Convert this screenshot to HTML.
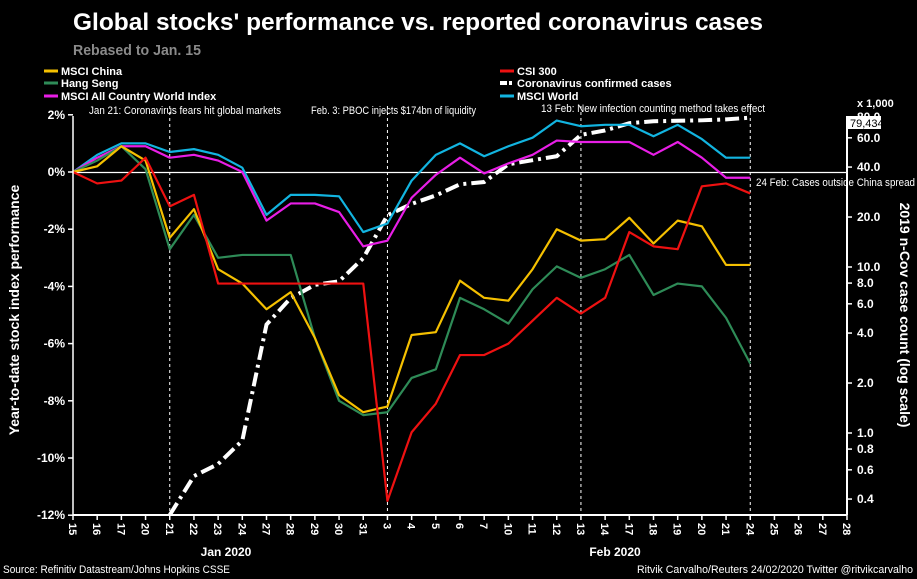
<!DOCTYPE html>
<html><head><meta charset="utf-8"><style>
body{margin:0;background:#000;}
svg{display:block;font-family:"Liberation Sans Narrow","Liberation Sans",sans-serif;}
</style></head><body>
<svg id="c" width="917" height="579" viewBox="0 0 917 579">
<rect width="917" height="579" fill="#000"/>
<text x="73" y="30" fill="#fff" font-size="24" font-weight="bold" textLength="690" lengthAdjust="spacingAndGlyphs">Global stocks' performance vs. reported coronavirus cases</text>
<text x="73" y="55" fill="#8a8a8a" font-size="15" font-weight="bold" textLength="128" lengthAdjust="spacingAndGlyphs">Rebased to Jan. 15</text>
<g id="legend"></g>
<g id="grid"></g>
<g id="series"></g>
<g id="axes"></g>
<text x="89" y="114" fill="#fff" font-size="11" textLength="192" lengthAdjust="spacingAndGlyphs">Jan 21: Coronavirus fears hit global markets</text>
<text x="311" y="114" fill="#fff" font-size="11" textLength="165" lengthAdjust="spacingAndGlyphs">Feb. 3: PBOC injects $174bn of liquidity</text>
<text x="541" y="112" fill="#fff" font-size="11" textLength="224" lengthAdjust="spacingAndGlyphs">13 Feb: New infection counting method takes effect</text>
<text x="756" y="186" fill="#fff" font-size="11" textLength="159" lengthAdjust="spacingAndGlyphs">24 Feb: Cases outside China spread</text>
<text x="857" y="107" fill="#fff" font-size="11" font-weight="bold">x 1,000</text>
<g id="boxlayer"></g>
<text transform="translate(19,310) rotate(-90)" fill="#fff" font-size="14" font-weight="bold" text-anchor="middle">Year-to-date stock index performance</text>
<text transform="translate(900,315) rotate(90)" fill="#fff" font-size="14" font-weight="bold" text-anchor="middle">2019 n-Cov case count (log scale)</text>
<text x="226" y="556" fill="#fff" font-size="12" font-weight="bold" text-anchor="middle">Jan 2020</text>
<text x="615" y="556" fill="#fff" font-size="12" font-weight="bold" text-anchor="middle">Feb 2020</text>
<text x="3" y="573" fill="#fff" font-size="11" textLength="227" lengthAdjust="spacingAndGlyphs">Source: Refinitiv Datastream/Johns Hopkins CSSE</text>
<text x="637" y="573" fill="#fff" font-size="11" textLength="276" lengthAdjust="spacingAndGlyphs">Ritvik Carvalho/Reuters 24/02/2020 Twitter @ritvikcarvalho</text>
</svg>
<script>
const dates = ["15","16","17","20","21","22","23","24","27","28","29","30","31","3","4","5","6","7","10","11","12","13","14","17","18","19","20","21","24","25","26","27","28"];
const msciChina = [0,0.2,0.9,0.4,-2.3,-1.3,-3.4,-3.9,-4.8,-4.2,-5.8,-7.8,-8.4,-8.2,-5.7,-5.6,-3.8,-4.4,-4.5,-3.4,-2.0,-2.4,-2.35,-1.6,-2.5,-1.7,-1.9,-3.25,-3.25];
const hangSeng = [0,0.4,0.9,0.1,-2.7,-1.5,-3.0,-2.9,-2.9,-2.9,-5.8,-8.0,-8.5,-8.4,-7.2,-6.9,-4.4,-4.8,-5.3,-4.1,-3.3,-3.7,-3.4,-2.9,-4.3,-3.9,-4.0,-5.1,-6.7];
const msciAcwi = [0,0.5,0.9,0.9,0.5,0.6,0.4,0,-1.7,-1.1,-1.1,-1.4,-2.6,-2.4,-0.9,-0.1,0.5,-0.05,0.3,0.6,1.1,1.05,1.05,1.05,0.6,1.05,0.5,-0.2,-0.2];
const csi300 = [0,-0.4,-0.3,0.5,-1.2,-0.8,-3.9,-3.9,-3.9,-3.9,-3.9,-3.9,-3.9,-11.5,-9.1,-8.1,-6.4,-6.4,-6.0,-5.2,-4.4,-4.95,-4.4,-2.1,-2.6,-2.7,-0.5,-0.4,-0.75];
const msciWorld = [0,0.6,1.0,1.0,0.7,0.8,0.6,0.15,-1.5,-0.8,-0.8,-0.85,-2.1,-1.8,-0.3,0.6,1.0,0.55,0.9,1.2,1.8,1.6,1.65,1.65,1.25,1.65,1.15,0.5,0.5];
const casesDates = [4,5,6,7,8,9,10,11,12,13,14,15,16,17,18,19,20,21,22,23,24,25,26,27,28];
const cases = [0.3,0.55,0.65,0.9,4.5,6.5,7.8,8.2,11.3,20.5,24,27,31.5,32.5,41.6,44,46.5,62.5,66.5,73.5,75.5,76,76.5,77.5,79.4];
const leftTicks = [2,0,-2,-4,-6,-8,-10,-12];
const rightTicks = [80,60,40,20,10,8,6,4,2,1,0.8,0.6,0.4];
const eventIdx = [4,13,21,28];

const NS="http://www.w3.org/2000/svg";
const X0=73,X1=847,YT=116,YB=515;
const x=i=>X0+i*(X1-X0)/(dates.length-1);
const y=v=>172-v*28.6;
const yl=v=>433-Math.log10(v)*166;
function mk(tag,attrs,parent){const e=document.createElementNS(NS,tag);for(const k in attrs)e.setAttribute(k,attrs[k]);parent.appendChild(e);return e;}
const grid=document.getElementById('grid'),ser=document.getElementById('series'),ax=document.getElementById('axes'),leg=document.getElementById('legend'),bl=document.getElementById('boxlayer');

eventIdx.forEach(i=>{const l=mk('line',{x1:x(i),x2:x(i),y1:106,y2:YB,stroke:'#fff','stroke-width':1,'stroke-dasharray':'3,3'},grid);

});
const zl=mk('line',{x1:X0,x2:X1,y1:y(0)+0.5,y2:y(0)+0.5,stroke:'#fff','stroke-width':1.2},grid);



const cp=mk('polyline',{points:casesDates.map((d,k)=>x(d)+','+Math.min(YB,yl(cases[k]))).join(' '),fill:'none',stroke:'#fff','stroke-width':4,'stroke-dasharray':'14,5,3,5'},ser);



const S=[["msci-world",msciWorld,"#12b4e0"],["msci-acwi",msciAcwi,"#e81ee6"],["hang-seng",hangSeng,"#2e8b57"],["msci-china",msciChina,"#f5c000"],["csi-300",csi300,"#ee1111"]];
S.forEach(s=>{const p=mk('polyline',{points:s[1].map((v,i)=>x(i)+','+y(v)).join(' '),fill:'none',stroke:s[2],'stroke-width':2.2,'stroke-linejoin':'round'},ser);

});

mk('line',{x1:X0,x2:X0,y1:YT,y2:YB,stroke:'#fff','stroke-width':1.5},ax);
mk('line',{x1:X0,x2:X1,y1:YB,y2:YB,stroke:'#fff','stroke-width':2},ax);
mk('line',{x1:X1,x2:X1,y1:YT,y2:YB,stroke:'#fff','stroke-width':2},ax);
leftTicks.forEach(v=>{mk('line',{x1:X0-5,x2:X0,y1:y(v),y2:y(v),stroke:'#fff','stroke-width':1.5},ax);
const t=mk('text',{x:X0-8,y:y(v)+4,fill:'#fff','font-size':12,'font-weight':'bold','text-anchor':'end'},ax);t.textContent=v+'%';

});
rightTicks.forEach(v=>{mk('line',{x1:X1,x2:X1+5,y1:yl(v),y2:yl(v),stroke:'#fff','stroke-width':1.5},ax);
const t=mk('text',{x:X1+10,y:yl(v)+4,fill:'#fff','font-size':12,'font-weight':'bold'},ax);t.textContent=v.toFixed(1);

});
dates.forEach((d,i)=>{mk('line',{x1:x(i),x2:x(i),y1:YB,y2:YB+5,stroke:'#fff','stroke-width':1.5},ax);
const t=mk('text',{transform:'translate('+(x(i)-4)+','+(YB+8)+') rotate(90)',fill:'#fff','font-size':11,'font-weight':'bold'},ax);t.textContent=d;

});

const br=mk('rect',{x:848,y:116,width:33,height:13,fill:'#fff'},bl);


const bt=mk('text',{x:850,y:127,fill:'#000','font-size':11},bl);bt.textContent='79,434';



const L=[["MSCI China","#f5c000",44,71,false],["Hang Seng","#2e8b57",44,83,false],["MSCI All Country World Index","#e81ee6",44,96,false],["CSI 300","#ee1111",500,71,false],["Coronavirus confirmed cases","#fff",500,83,true],["MSCI World","#12b4e0",500,96,false]];
L.forEach(e=>{const g=mk('g',{},leg);


mk('line',{x1:e[2],x2:e[2]+14,y1:e[3],y2:e[3],stroke:e[1],'stroke-width':e[4]?4:3,'stroke-dasharray':e[4]?'7,2,3,2':'none'},g);
const t=mk('text',{x:e[2]+17,y:e[3]+4,fill:'#fff','font-size':11,'font-weight':'bold'},g);t.textContent=e[0];});
</script>
</body></html>
